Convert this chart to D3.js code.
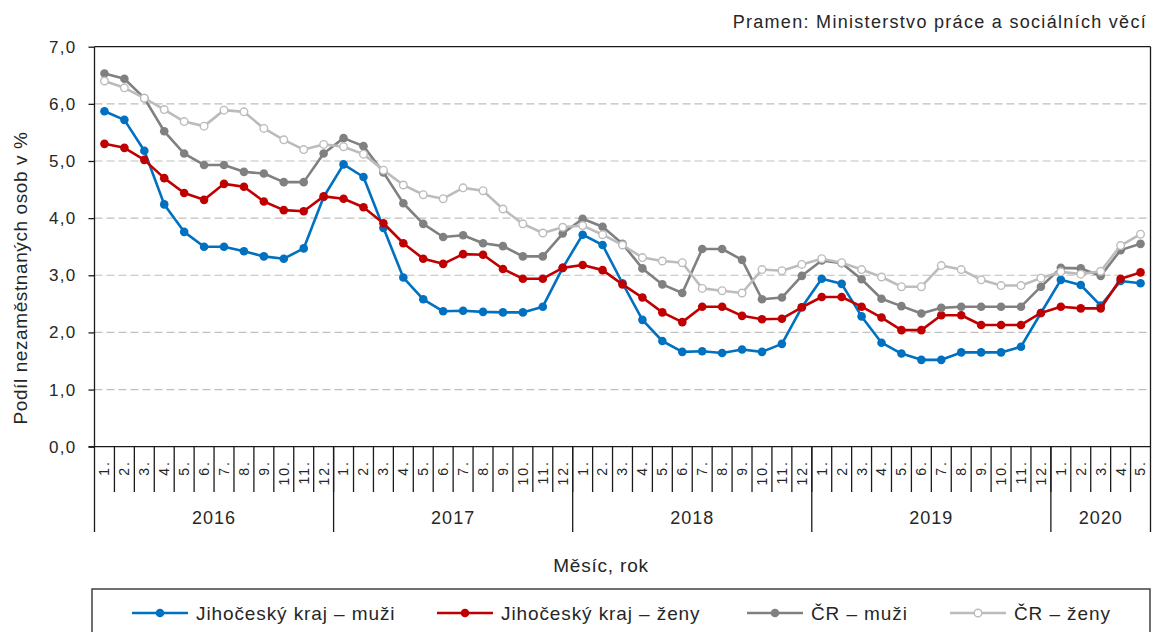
<!DOCTYPE html>
<html>
<head>
<meta charset="utf-8">
<script src="https://cdn.jsdelivr.net/npm/d3@7"></script>
<style>
  body { margin: 0; background: #fff; }
  text { font-family: "Liberation Sans", Arial, sans-serif; fill: #262626; }
</style>
</head>
<body>
<svg id="chart" width="1157" height="632"></svg>
<script>
// months 2016-01 .. 2020-05
var years = ["2016", "2017", "2018", "2019", "2020"];
var monthsPerYear = [12, 12, 12, 12, 5];

var jcMuzi = [5.87, 5.72, 5.18, 4.24, 3.76, 3.50, 3.50, 3.42, 3.33, 3.29, 3.47, 4.37,
              4.94, 4.72, 3.83, 2.96, 2.58, 2.37, 2.38, 2.36, 2.35, 2.35, 2.45, 3.13,
              3.71, 3.53, 2.86, 2.22, 1.85, 1.66, 1.67, 1.64, 1.70, 1.66, 1.80, 2.44,
              2.94, 2.85, 2.28, 1.82, 1.63, 1.52, 1.52, 1.65, 1.65, 1.65, 1.75, 2.34,
              2.92, 2.83, 2.47, 2.90, 2.86];
var jcZeny = [5.30, 5.23, 5.02, 4.70, 4.44, 4.32, 4.60, 4.55, 4.29, 4.14, 4.12, 4.38,
              4.34, 4.19, 3.91, 3.56, 3.29, 3.20, 3.37, 3.36, 3.11, 2.94, 2.94, 3.13,
              3.18, 3.09, 2.84, 2.61, 2.35, 2.18, 2.45, 2.45, 2.29, 2.23, 2.24, 2.44,
              2.62, 2.62, 2.45, 2.26, 2.04, 2.04, 2.30, 2.30, 2.13, 2.13, 2.13, 2.34,
              2.45, 2.42, 2.42, 2.94, 3.05];
var crMuzi = [6.53, 6.44, 6.10, 5.52, 5.13, 4.93, 4.93, 4.81, 4.78, 4.63, 4.63, 5.13,
              5.40, 5.26, 4.80, 4.26, 3.90, 3.67, 3.70, 3.56, 3.51, 3.33, 3.33, 3.73,
              3.99, 3.85, 3.55, 3.12, 2.84, 2.69, 3.46, 3.46, 3.27, 2.58, 2.61, 2.99,
              3.26, 3.21, 2.93, 2.59, 2.46, 2.33, 2.43, 2.45, 2.45, 2.45, 2.45, 2.80,
              3.13, 3.12, 2.99, 3.44, 3.55];
var crZeny = [6.40, 6.28, 6.10, 5.90, 5.69, 5.61, 5.89, 5.86, 5.57, 5.37, 5.20, 5.29,
              5.25, 5.12, 4.84, 4.58, 4.41, 4.34, 4.53, 4.48, 4.16, 3.90, 3.74, 3.84,
              3.87, 3.71, 3.53, 3.31, 3.25, 3.22, 2.77, 2.73, 2.69, 3.10, 3.08, 3.19,
              3.29, 3.22, 3.10, 2.97, 2.80, 2.80, 3.17, 3.10, 2.92, 2.82, 2.82, 2.95,
              3.06, 3.02, 3.07, 3.52, 3.72];

var seriesNames = ["Jihočeský kraj – muži", "Jihočeský kraj – ženy", "ČR – muži", "ČR – ženy"];
var seriesColors = ["#0070c0", "#c00000", "#808080", "#bcbcbc"];
var yTicks = [0, 1, 2, 3, 4, 5, 6, 7];

var series = [jcMuzi, jcZeny, crMuzi, crZeny];

// month labels "1." .. "12."
var monthLabels = [];
monthsPerYear.forEach(function(n) {
    for (var m = 1; m <= n; m++) monthLabels.push(m + ".");
});

var plotLeft = 94.5, plotRight = 1150.5, plotTop = 46.7, plotBottom = 446.7;

var svg = d3.select("#chart");

var x = d3.scaleBand()
    .domain(d3.range(monthLabels.length))
    .range([plotLeft, plotRight]);
var bw = x.bandwidth();
function cx(i) { return x(i) + bw / 2; }

var y = d3.scaleLinear().domain([0, 7]).range([plotBottom, plotTop]);

// gridlines
svg.append("g")
   .selectAll("line")
   .data(yTicks.slice(1, 7))
   .enter()
   .append("line")
   .attr("x1", plotLeft).attr("x2", plotRight)
   .attr("y1", function(d) { return y(d); })
   .attr("y2", function(d) { return y(d); })
   .attr("stroke", "#bfbfbf")
   .attr("stroke-width", 1.2)
   .attr("stroke-dasharray", "8,4");

// frame top + right
svg.append("line").attr("x1", plotLeft).attr("x2", plotRight).attr("y1", plotTop).attr("y2", plotTop)
   .attr("stroke", "#1a1a1a").attr("stroke-width", 1.3);
svg.append("line").attr("x1", plotRight).attr("x2", plotRight).attr("y1", plotTop).attr("y2", 532)
   .attr("stroke", "#1a1a1a").attr("stroke-width", 1.3);

// y axis
var yAxis = svg.append("g")
   .attr("transform", "translate(" + plotLeft + ",0)")
   .call(d3.axisLeft(y).tickValues(yTicks).tickSize(6).tickPadding(12)
        .tickFormat(function(d) { return d3.format(".1f")(d).replace(".", ","); }));
yAxis.select(".domain").remove();
yAxis.selectAll("line").attr("stroke", "#1a1a1a").attr("stroke-width", 1.3);
yAxis.selectAll("text").style("font-size", "17px").style("letter-spacing", "1.3px")
     .attr("fill", "#262626")
     .style("font-family", "'Liberation Sans', Arial, sans-serif");
svg.append("line").attr("x1", plotLeft).attr("x2", plotLeft).attr("y1", plotTop).attr("y2", 532)
   .attr("stroke", "#1a1a1a").attr("stroke-width", 1.3);

// x axis baseline
svg.append("line").attr("x1", plotLeft - 6).attr("x2", plotRight).attr("y1", plotBottom).attr("y2", plotBottom)
   .attr("stroke", "#1a1a1a").attr("stroke-width", 1.3);

// month dividers
svg.append("g")
   .selectAll("line")
   .data(d3.range(1, monthLabels.length))
   .enter()
   .append("line")
   .attr("x1", function(i) { return x(i); })
   .attr("x2", function(i) { return x(i); })
   .attr("y1", plotBottom)
   .attr("y2", 492)
   .attr("stroke", "#1a1a1a")
   .attr("stroke-width", 1.3);

// year dividers
var yearStart = [0];
monthsPerYear.forEach(function(n, k) { yearStart.push(yearStart[k] + n); });
svg.append("g")
   .selectAll("line")
   .data(yearStart.slice(1, yearStart.length - 1))
   .enter()
   .append("line")
   .attr("x1", function(i) { return x(i); })
   .attr("x2", function(i) { return x(i); })
   .attr("y1", plotBottom)
   .attr("y2", 532)
   .attr("stroke", "#1a1a1a")
   .attr("stroke-width", 1.3);

// month labels
svg.append("g")
   .selectAll("text")
   .data(monthLabels)
   .enter()
   .append("text")
   .attr("transform", function(d, i) { return "translate(" + cx(i) + ",460) rotate(-90)"; })
   .attr("text-anchor", "end")
   .attr("dy", "0.35em")
   .style("font-size", "14px")
   .style("letter-spacing", "2px")
   .text(function(d) { return d; });

// year labels
svg.append("g")
   .selectAll("text")
   .data(years)
   .enter()
   .append("text")
   .attr("x", function(d, k) { return (x(yearStart[k]) + (yearStart[k + 1] < monthLabels.length ? x(yearStart[k + 1]) : plotRight)) / 2; })
   .attr("y", 524)
   .attr("text-anchor", "middle")
   .style("font-size", "18px")
   .style("letter-spacing", "1px")
   .text(function(d) { return d; });

// axis titles
svg.append("text")
   .attr("x", 601).attr("y", 572)
   .attr("text-anchor", "middle")
   .style("font-size", "19px")
   .style("letter-spacing", "0.8px")
   .text("Měsíc, rok");

svg.append("text")
   .attr("transform", "translate(27,278) rotate(-90)")
   .attr("text-anchor", "middle")
   .style("font-size", "19px")
   .style("letter-spacing", "0.6px")
   .text("Podíl  nezaměstnaných osob v %");

svg.append("text")
   .attr("x", 1147).attr("y", 28)
   .attr("text-anchor", "end")
   .style("font-size", "18px")
   .style("letter-spacing", "1.3px")
   .text("Pramen:  Ministerstvo práce a sociálních věcí");

// series
var line = d3.line()
    .x(function(d, i) { return cx(i); })
    .y(function(d) { return y(d); });

series.forEach(function(vals, s) {
    var g = svg.append("g");
    g.append("path")
     .datum(vals)
     .attr("d", line)
     .attr("fill", "none")
     .attr("stroke", seriesColors[s])
     .attr("stroke-width", 2.6)
     .attr("stroke-linejoin", "round");
    g.selectAll("circle")
     .data(vals)
     .enter()
     .append("circle")
     .attr("cx", function(d, i) { return cx(i); })
     .attr("cy", function(d) { return y(d); })
     .attr("r", s === 3 ? 3.8 : 4.3)
     .attr("fill", s === 3 ? "#fff" : seriesColors[s])
     .attr("stroke", seriesColors[s])
     .attr("stroke-width", s === 3 ? 1.4 : 0);
});

// legend
svg.append("rect")
   .attr("x", 92).attr("y", 589)
   .attr("width", 1058).attr("height", 60)
   .attr("fill", "none")
   .attr("stroke", "#404040")
   .attr("stroke-width", 1.5);

var legendX = [132, 437, 747, 950];
var leg = svg.append("g")
   .selectAll("g")
   .data(seriesNames)
   .enter()
   .append("g")
   .attr("transform", function(d, i) { return "translate(" + legendX[i] + ",613)"; });
leg.append("line")
   .attr("x1", 0).attr("x2", 56)
   .attr("stroke", function(d, i) { return seriesColors[i]; })
   .attr("stroke-width", 2.6);
leg.append("circle")
   .attr("cx", 28)
   .attr("r", function(d, i) { return i === 3 ? 3.8 : 4.3; })
   .attr("fill", function(d, i) { return i === 3 ? "#fff" : seriesColors[i]; })
   .attr("stroke", function(d, i) { return seriesColors[i]; })
   .attr("stroke-width", function(d, i) { return i === 3 ? 1.4 : 0; });
leg.append("text")
   .attr("x", 64)
   .attr("dy", "0.35em")
   .style("font-size", "19px")
   .style("letter-spacing", "0.9px")
   .text(function(d) { return d; });
</script>
</body>
</html>
